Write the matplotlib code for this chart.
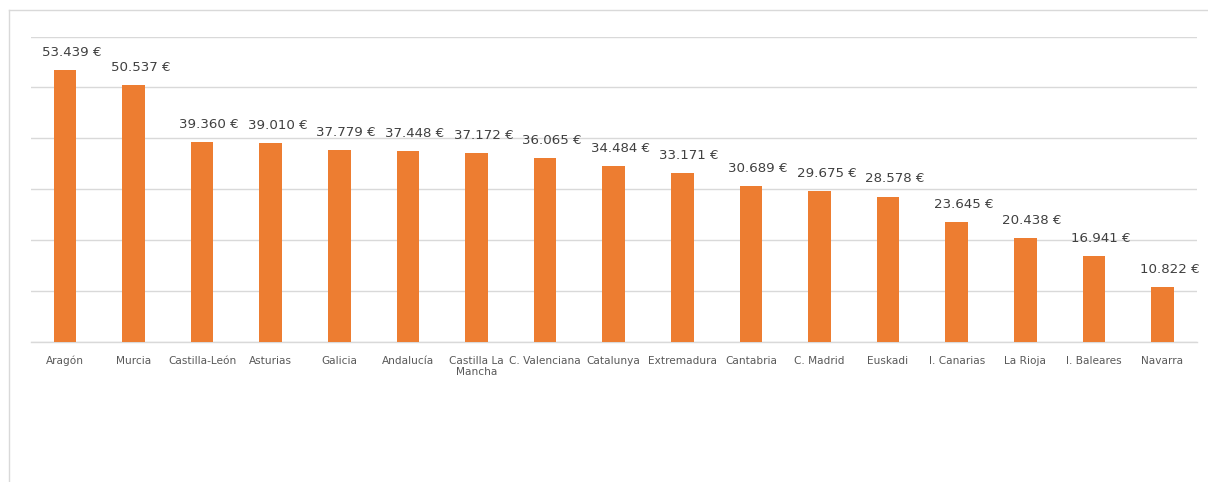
import matplotlib
matplotlib.use("Agg")
import matplotlib.pyplot as plt
from matplotlib.lines import Line2D

categories = ["Aragón", "Murcia", "Castilla-León", "Asturias", "Galicia", "Andalucía",
              "Castilla La\nMancha", "C. Valenciana", "Catalunya", "Extremadura",
              "Cantabria", "C. Madrid", "Euskadi", "I. Canarias", "La Rioja",
              "I. Baleares", "Navarra"]
values = [53439, 50537, 39360, 39010, 37779, 37448, 37172, 36065, 34484, 33171,
          30689, 29675, 28578, 23645, 20438, 16941, 10822]
y_max = 60000
y_step = 10000

W, H = 1208, 482
fig = plt.figure(figsize=(W / 100, H / 100), dpi=100)
fig.patch.set_facecolor("white")

ax = fig.add_axes([30.7 / W, (H - 342) / H, (1196.7 - 30.7) / W, (342 - 36.6) / H])
x = list(range(len(categories)))
ax.bar(x, values, width=0.33, color="#ED7D31", zorder=3)
ax.set_xlim(-0.5, len(categories) - 0.5)
ax.set_ylim(0, y_max)
ax.set_yticks(range(0, y_max + 1, y_step))
ax.yaxis.grid(True, color="#D9D9D9", linewidth=1.0, zorder=0)
ax.tick_params(axis="y", left=False, labelleft=False)
ax.tick_params(axis="x", length=0, pad=10, labelsize=7.6, labelcolor="#595959")
ax.set_xticks(x)
ax.set_xticklabels(categories, fontsize=7.6, color="#595959", linespacing=1.15)
for s in ["top", "right", "left"]:
    ax.spines[s].set_visible(False)
ax.spines["bottom"].set_color("#D9D9D9")
ax.spines["bottom"].set_linewidth(1.0)

for xi, v in zip(x, values):
    label = f"{v:,}".replace(",", ".") + " €"
    ax.annotate(label, (xi, v), xytext=(5, 8), textcoords="offset points",
                ha="center", va="bottom", fontsize=9.6, color="#404040")

# outer chart frame (partially off-canvas)
fig.add_artist(Line2D([8.5 / W, 8.5 / W], [0, (H - 9.5) / H], transform=fig.transFigure,
                      color="#D9D9D9", linewidth=1.0))
fig.add_artist(Line2D([8.5 / W, 1], [(H - 9.5) / H, (H - 9.5) / H], transform=fig.transFigure,
                      color="#D9D9D9", linewidth=1.0))

fig.savefig("out.png", dpi=100)
